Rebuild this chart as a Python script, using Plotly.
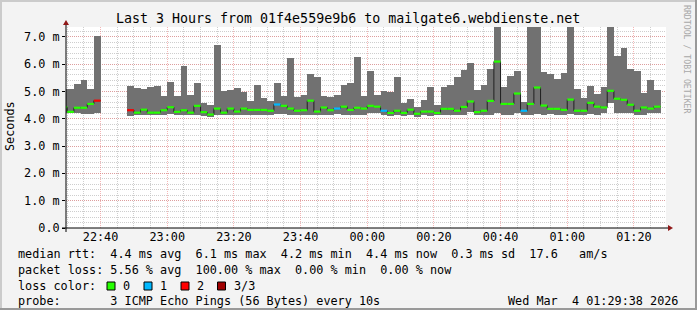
import pandas as pd
import plotly.graph_objects as go

# ---------------- data ----------------
first_step = "2026-03-03 22:28:00"   # start of first 2-minute step
step_minutes = 2
range_start = "2026-03-03 22:29:38"
range_end = "2026-03-04 01:29:38"

# smoke bottom (ms)
rtt_min = [4.20, 4.20, 4.20, 4.16, 4.18, 4.20, None, None, None, None,
           4.10, 4.12, 4.12, 4.12, 4.12, 4.15, 4.18, 4.15, 4.15, 4.15,
           4.15, 4.10, 4.08, 4.15, 4.12, 4.15, 4.15, 4.15, 4.15, 4.15,
           4.15, 4.15, 4.18, 4.18, 4.15, 4.15, 4.12, 4.15, 4.12, 4.15,
           4.15, 4.18, 4.15, 4.15, 4.15, 4.15, 4.20, 4.20, 4.15, 4.10,
           4.12, 4.10, 4.12, 4.05, 4.12, 4.10, 4.12, 4.15, 4.15, 4.15,
           4.15, 4.24, 4.12, 4.12, 4.15, 4.20, 4.15, 4.15, 4.20, 4.15,
           4.15, 4.18, 4.15, 4.18, 4.15, 4.15, 4.18, 4.15, 4.15, 4.18,
           4.15, 4.20, 4.58, 4.22, 4.22, 4.20, 4.15, 4.15, 4.20, 4.20,
           None]
# smoke top (ms)
rtt_max = [5.08, 5.08, 5.27, 5.42, 5.08, 7.03, None, None, None, None,
           5.20, 5.13, 5.10, 5.15, 5.20, 4.83, 5.36, 4.83, 5.91, 4.87,
           5.32, 4.59, 4.50, 6.71, 5.02, 5.05, 5.14, 4.99, 4.66, 5.24,
           4.76, 4.63, 5.32, 4.84, 6.23, 4.80, 4.87, 5.64, 5.53, 4.83,
           4.80, 4.87, 5.24, 5.32, 6.27, 4.83, 5.73, 4.87, 5.02, 4.99,
           5.51, 4.58, 4.73, 4.41, 4.69, 5.16, 4.51, 5.16, 5.24, 5.51,
           5.79, 6.04, 5.04, 5.24, 5.82, 8.00, 5.16, 5.57, 5.75, 4.60,
           8.00, 8.00, 5.71, 5.64, 5.46, 5.68, 8.00, 5.09, 4.75, 5.20,
           4.92, 5.16, 8.00, 6.30, 6.60, 5.82, 5.75, 4.93, 5.42, 5.04,
           None]
# median rtt (ms)
rtt_median = [4.42, 4.25, 4.40, 4.40, 4.54, 4.66, None, None, None, None,
              4.31, 4.22, 4.33, 4.22, 4.22, 4.31, 4.42, 4.25, 4.31, 4.22,
              4.47, 4.24, 4.15, 4.37, 4.22, 4.37, 4.26, 4.37, 4.32, 4.32,
              4.32, 4.29, 4.52, 4.47, 4.37, 4.29, 4.31, 4.66, 4.26, 4.41,
              4.31, 4.37, 4.44, 4.32, 4.40, 4.37, 4.47, 4.44, 4.29, 4.21,
              4.29, 4.21, 4.33, 4.18, 4.26, 4.26, 4.21, 4.36, 4.36, 4.29,
              4.43, 4.63, 4.24, 4.29, 4.65, 6.09, 4.54, 4.54, 4.92, 4.29,
              4.54, 5.14, 4.48, 4.36, 4.36, 4.32, 4.70, 4.29, 4.29, 4.58,
              4.44, 4.41, 5.02, 4.73, 4.69, 4.51, 4.29, 4.41, 4.37, 4.44,
              None]
# lost pings per step (of 3)
lost = [0, 0, 0, 0, 0, 2, 3, 3, 3, 3,
        2, 0, 0, 0, 0, 0, 0, 0, 0, 0,
        0, 0, 0, 0, 0, 0, 0, 0, 0, 0,
        0, 0, 1, 0, 0, 0, 0, 0, 0, 0,
        0, 1, 0, 0, 0, 0, 0, 0, 1, 0,
        0, 0, 0, 0, 0, 0, 0, 0, 0, 0,
        0, 0, 0, 0, 0, 0, 0, 0, 0, 1,
        0, 0, 0, 0, 0, 0, 0, 0, 0, 0,
        0, 0, 0, 0, 0, 0, 0, 0, 0, 0,
        3]

loss_levels = [0, 1, 2, 3]
loss_labels = ["0", "1", "2", "3/3"]
loss_colors = ["#26ff00", "#00b8ff", "#ff0000", "#a00000"]

y_tick_vals = [0, 1, 2, 3, 4, 5, 6, 7]
y_tick_text = ["0.0", "1.0 m", "2.0 m", "3.0 m", "4.0 m", "5.0 m", "6.0 m", "7.0 m"]

title_text = "Last 3 Hours from 01f4e559e9b6 to mailgate6.webdienste.net"
stat_lines = [
    "median rtt:  4.4 ms avg  6.1 ms max  4.2 ms min  4.4 ms now  0.3 ms sd  17.6   am/s",
    "packet loss: 5.56 % avg  100.00 % max  0.00 % min  0.00 % now",
]
probe_text = "probe:       3 ICMP Echo Pings (56 Bytes) every 10s"
date_text = "Wed Mar  4 01:29:38 2026"

# ---------------- layout geometry (pixels) ----------------
W, H = 697, 310
L, R, T, B = 66, 31, 27, 82
PW, PH = W - L - R, H - T - B
Y_MAX = 7.355
FONT = "DejaVu Sans Mono"
SMOKE = "#717171"


def px(x):
    return (x - L) / PW


def py(y):
    return (H - B - y) / PH


def nb(s):
    return s.replace(" ", "\u00a0")


starts = pd.date_range(first_step, periods=len(rtt_median), freq=f"{step_minutes}min")
ends = starts + pd.Timedelta(minutes=step_minutes)
centers = starts + pd.Timedelta(minutes=step_minutes / 2)

fig = go.Figure()

# smoke band (min..max)
fig.add_trace(go.Bar(
    x=list(centers),
    y=[(hi - lo) if hi is not None else None for lo, hi in zip(rtt_min, rtt_max)],
    base=rtt_min,
    width=step_minutes * 60 * 1000,
    marker=dict(color=SMOKE, line=dict(width=0)),
    hoverinfo="skip", showlegend=False,
))

# dark median line (steps with vertical joins)
mx, my = [], []
for s, e, m in zip(starts, ends, rtt_median):
    if m is None:
        mx.append(None); my.append(None)
        continue
    mx += [s, e]; my += [m, m]
fig.add_trace(go.Scatter(x=mx, y=my, mode="lines",
                         line=dict(color="#202020", width=1),
                         hoverinfo="skip", showlegend=False))

# loss-coloured median segments
for lvl, col in zip(loss_levels, loss_colors):
    sx, sy = [], []
    for s, e, m, l in zip(starts, ends, rtt_median, lost):
        if m is None or l != lvl:
            continue
        sx += [s, e, None]; sy += [m, m, None]
    if sx:
        fig.add_trace(go.Scatter(x=sx, y=sy, mode="lines",
                                 line=dict(color=col, width=2.2),
                                 hoverinfo="skip", showlegend=False))

shapes = []
# outer 3D border
shapes += [
    dict(type="rect", xref="paper", yref="paper", x0=px(0), x1=px(W), y0=py(0), y1=py(2),
         fillcolor="#cbcbcb", line=dict(width=0), layer="above"),
    dict(type="rect", xref="paper", yref="paper", x0=px(0), x1=px(2), y0=py(0), y1=py(H),
         fillcolor="#cbcbcb", line=dict(width=0), layer="above"),
    dict(type="rect", xref="paper", yref="paper", x0=px(0), x1=px(W), y0=py(H - 2), y1=py(H),
         fillcolor="#999999", line=dict(width=0), layer="above"),
    dict(type="rect", xref="paper", yref="paper", x0=px(W - 2), x1=px(W), y0=py(0), y1=py(H),
         fillcolor="#999999", line=dict(width=0), layer="above"),
]
# axes
shapes += [
    dict(type="line", xref="paper", yref="paper", x0=px(L - 4), x1=px(L + PW + 4),
         y0=0, y1=0, line=dict(color="#000000", width=1), layer="above"),
    dict(type="line", xref="paper", yref="paper", x0=0, x1=0,
         y0=py(H - B + 4), y1=py(T - 4), line=dict(color="#000000", width=1), layer="above"),
    dict(type="path", xref="paper", yref="paper",
         path=f"M {px(L + PW + 2)},{py(H - B - 3)} L {px(L + PW + 2)},{py(H - B + 3)} "
              f"L {px(L + PW + 7)},{py(H - B)} Z",
         fillcolor="#901818", line=dict(width=0), layer="above"),
    dict(type="path", xref="paper", yref="paper",
         path=f"M {px(L - 3)},{py(T - 2)} L {px(L + 3)},{py(T - 2)} L {px(L)},{py(T - 7)} Z",
         fillcolor="#901818", line=dict(width=0), layer="above"),
]

annotations = [
    dict(text=title_text, x=px(347.5), y=py(19), xref="paper", yref="paper",
         showarrow=False, xanchor="center", yanchor="middle",
         font=dict(family=FONT, size=13.3, color="#000000")),
    dict(text="Seconds", x=px(10), y=py(126), xref="paper", yref="paper",
         showarrow=False, xanchor="center", yanchor="middle", textangle=-90,
         font=dict(family=FONT, size=11.8, color="#000000")),
    dict(text=nb("RRDTOOL / TOBI OETIKER"), x=px(687), y=py(59), xref="paper", yref="paper",
         showarrow=False, xanchor="center", yanchor="middle", textangle=90,
         font=dict(family=FONT, size=8.2, color="#a8a8a8")),
]
line_y = [254, 270, 286, 301]
for txt, yy in zip(stat_lines, line_y[:2]):
    annotations.append(dict(text=nb(txt), x=px(16), y=py(yy), xref="paper", yref="paper",
                            showarrow=False, xanchor="left", yanchor="middle",
                            font=dict(family=FONT, size=11.8, color="#000000")))
annotations.append(dict(text=nb("loss color:"), x=px(16), y=py(line_y[2]), xref="paper",
                        yref="paper", showarrow=False, xanchor="left", yanchor="middle",
                        font=dict(family=FONT, size=11.8, color="#000000")))
box_x = [107, 144, 181, 217.5]
for bx, lab, col in zip(box_x, loss_labels, loss_colors):
    shapes.append(dict(type="rect", xref="paper", yref="paper",
                       x0=px(bx), x1=px(bx + 8), y0=py(line_y[2] + 4), y1=py(line_y[2] - 4),
                       fillcolor=col, line=dict(color="#000000", width=1), layer="above"))
    annotations.append(dict(text=lab, x=px(bx + 14), y=py(line_y[2]), xref="paper",
                            yref="paper", showarrow=False, xanchor="left", yanchor="middle",
                            font=dict(family=FONT, size=11.8, color="#000000")))
annotations.append(dict(text=nb(probe_text), x=px(16), y=py(line_y[3]), xref="paper",
                        yref="paper", showarrow=False, xanchor="left", yanchor="middle",
                        font=dict(family=FONT, size=11.8, color="#000000")))
annotations.append(dict(text=nb(date_text), x=px(680), y=py(line_y[3]), xref="paper",
                        yref="paper", showarrow=False, xanchor="right", yanchor="middle",
                        font=dict(family=FONT, size=11.8, color="#000000")))

major_grid = "rgba(235,110,110,0.5)"
minor_grid = "rgba(190,190,190,0.75)"

fig.update_layout(
    width=W, height=H,
    margin=dict(l=L, r=R, t=T, b=B, pad=0),
    paper_bgcolor="#f3f3f3", plot_bgcolor="#ffffff",
    bargap=0, barmode="overlay",
    showlegend=False,
    shapes=shapes, annotations=annotations,
    font=dict(family=FONT, size=11.8, color="#000000"),
    xaxis=dict(
        type="date", range=[range_start, range_end],
        tick0="2026-03-03 22:40:00", dtick=20 * 60 * 1000, tickformat="%H:%M",
        showgrid=True, gridcolor=major_grid, griddash="1px,1px", gridwidth=1,
        minor=dict(tick0="2026-03-03 22:40:00", dtick=5 * 60 * 1000, showgrid=True,
                   gridcolor=minor_grid, griddash="1px,1px", gridwidth=1),
        showline=False, zeroline=False, ticks="", fixedrange=True,
        tickfont=dict(family=FONT, size=11.8, color="#000000"),
    ),
    yaxis=dict(
        range=[0, Y_MAX], tickvals=y_tick_vals, ticktext=y_tick_text,
        showgrid=True, gridcolor=major_grid, griddash="1px,1px", gridwidth=1,
        minor=dict(dtick=0.2, showgrid=True, gridcolor=minor_grid, griddash="1px,1px",
                   gridwidth=1),
        showline=False, zeroline=False, ticks="outside", ticklen=3, tickcolor="#000000",
        fixedrange=True,
        tickfont=dict(family=FONT, size=11.8, color="#000000"),
    ),
)

fig.write_html("out.html")
